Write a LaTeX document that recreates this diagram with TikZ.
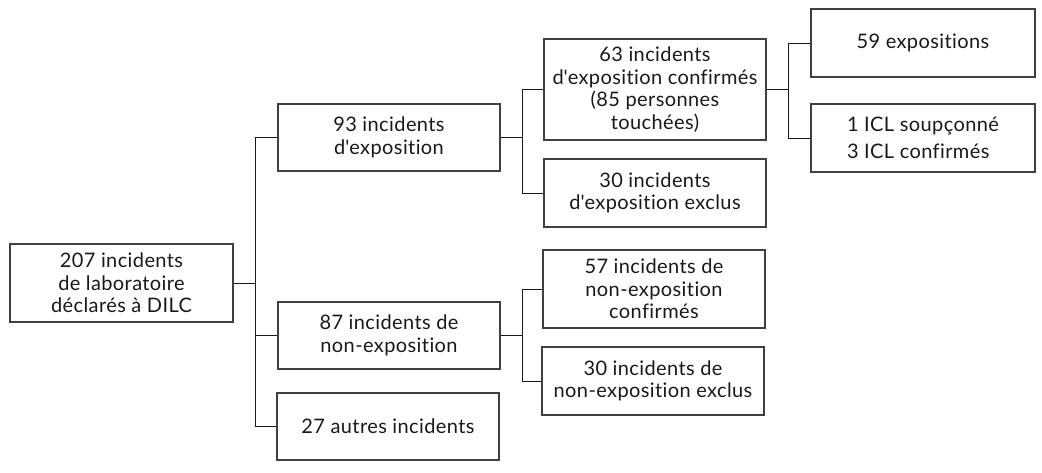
\documentclass[tikz,border=0pt]{standalone}
\usepackage{fontspec}
\setmainfont{Lato}[LetterSpace=2, Ligatures=NoCommon]
\usepackage{tikz}

\begin{document}
\begin{tikzpicture}[x=0.75pt,y=-0.75pt,
    box/.style={draw=black!75, line width=1pt, align=center, inner sep=0pt,
      font=\fontsize{15}{17}\selectfont, text=black!90},
    link/.style={draw=black!90, line width=0.75pt}]
      \useasboundingbox (0,0) rectangle (1042,472);

      % root
      \node[box, minimum width=167.25pt, minimum height=58.5pt] (root) at (121.5,283)
        {207 incidents\\de laboratoire\\déclarés à DILC};

      % second level
      \node[box, minimum width=166.5pt, minimum height=50.25pt] (exp) at (389,137.5)
        {93 incidents\\d\textquotesingle exposition};
      \node[box, minimum width=166.5pt, minimum height=50.25pt] (nonexp) at (389,335.5)
        {87 incidents de\\non-exposition};
      \node[box, minimum width=166.5pt, minimum height=50.25pt] (other) at (388,426.5)
        {27 autres incidents};

      % third level
      \node[box, minimum width=166.5pt, minimum height=75.75pt] (conf) at (655,89.5)
        {63 incidents\\d\textquotesingle exposition confirmés\\(85 personnes\\touchées)};
      \node[box, minimum width=166.5pt, minimum height=51pt] (excl) at (655,193)
        {30 incidents\\d\textquotesingle exposition exclus};
      \node[box, minimum width=166.5pt, minimum height=58.5pt] (nconf) at (654,289)
        {57 incidents de\\non-exposition\\confirmés};
      \node[box, minimum width=166.5pt, minimum height=51pt] (nexcl) at (653,381)
        {30 incidents de\\non-exposition exclus};

      % fourth level
      \node[box, minimum width=168pt, minimum height=51pt] (expo) at (923,43)
        {59 expositions};
      \node[box, align=left, minimum width=168pt, minimum height=51pt] (icl) at (923,138)
        {1 ICL soupçonné\\[3pt]3 ICL confirmés};

      % links from root
      \draw[link] (root.east) -- ++(22,0) coordinate (t1);
      \draw[link] (exp.west) -| (t1);
      \draw[link] (nonexp.west) -| (t1);
      \draw[link] (other.west) -| (t1);

      % links from exposition
      \draw[link] (exp.east) -- ++(22,0) coordinate (t2);
      \draw[link] (conf.west) -| (t2);
      \draw[link] (excl.west) -| (t2);

      % links from non-exposition
      \draw[link] (nonexp.east) -- ++(22,0) coordinate (t3);
      \draw[link] (nconf.west) -| (t3);
      \draw[link] (nexcl.west) -| (t3);

      % links from confirmed
      \draw[link] (conf.east) -- ++(22,0) coordinate (t4);
      \draw[link] (expo.west) -| (t4);
      \draw[link] (icl.west) -| (t4);
\end{tikzpicture}
\end{document}
